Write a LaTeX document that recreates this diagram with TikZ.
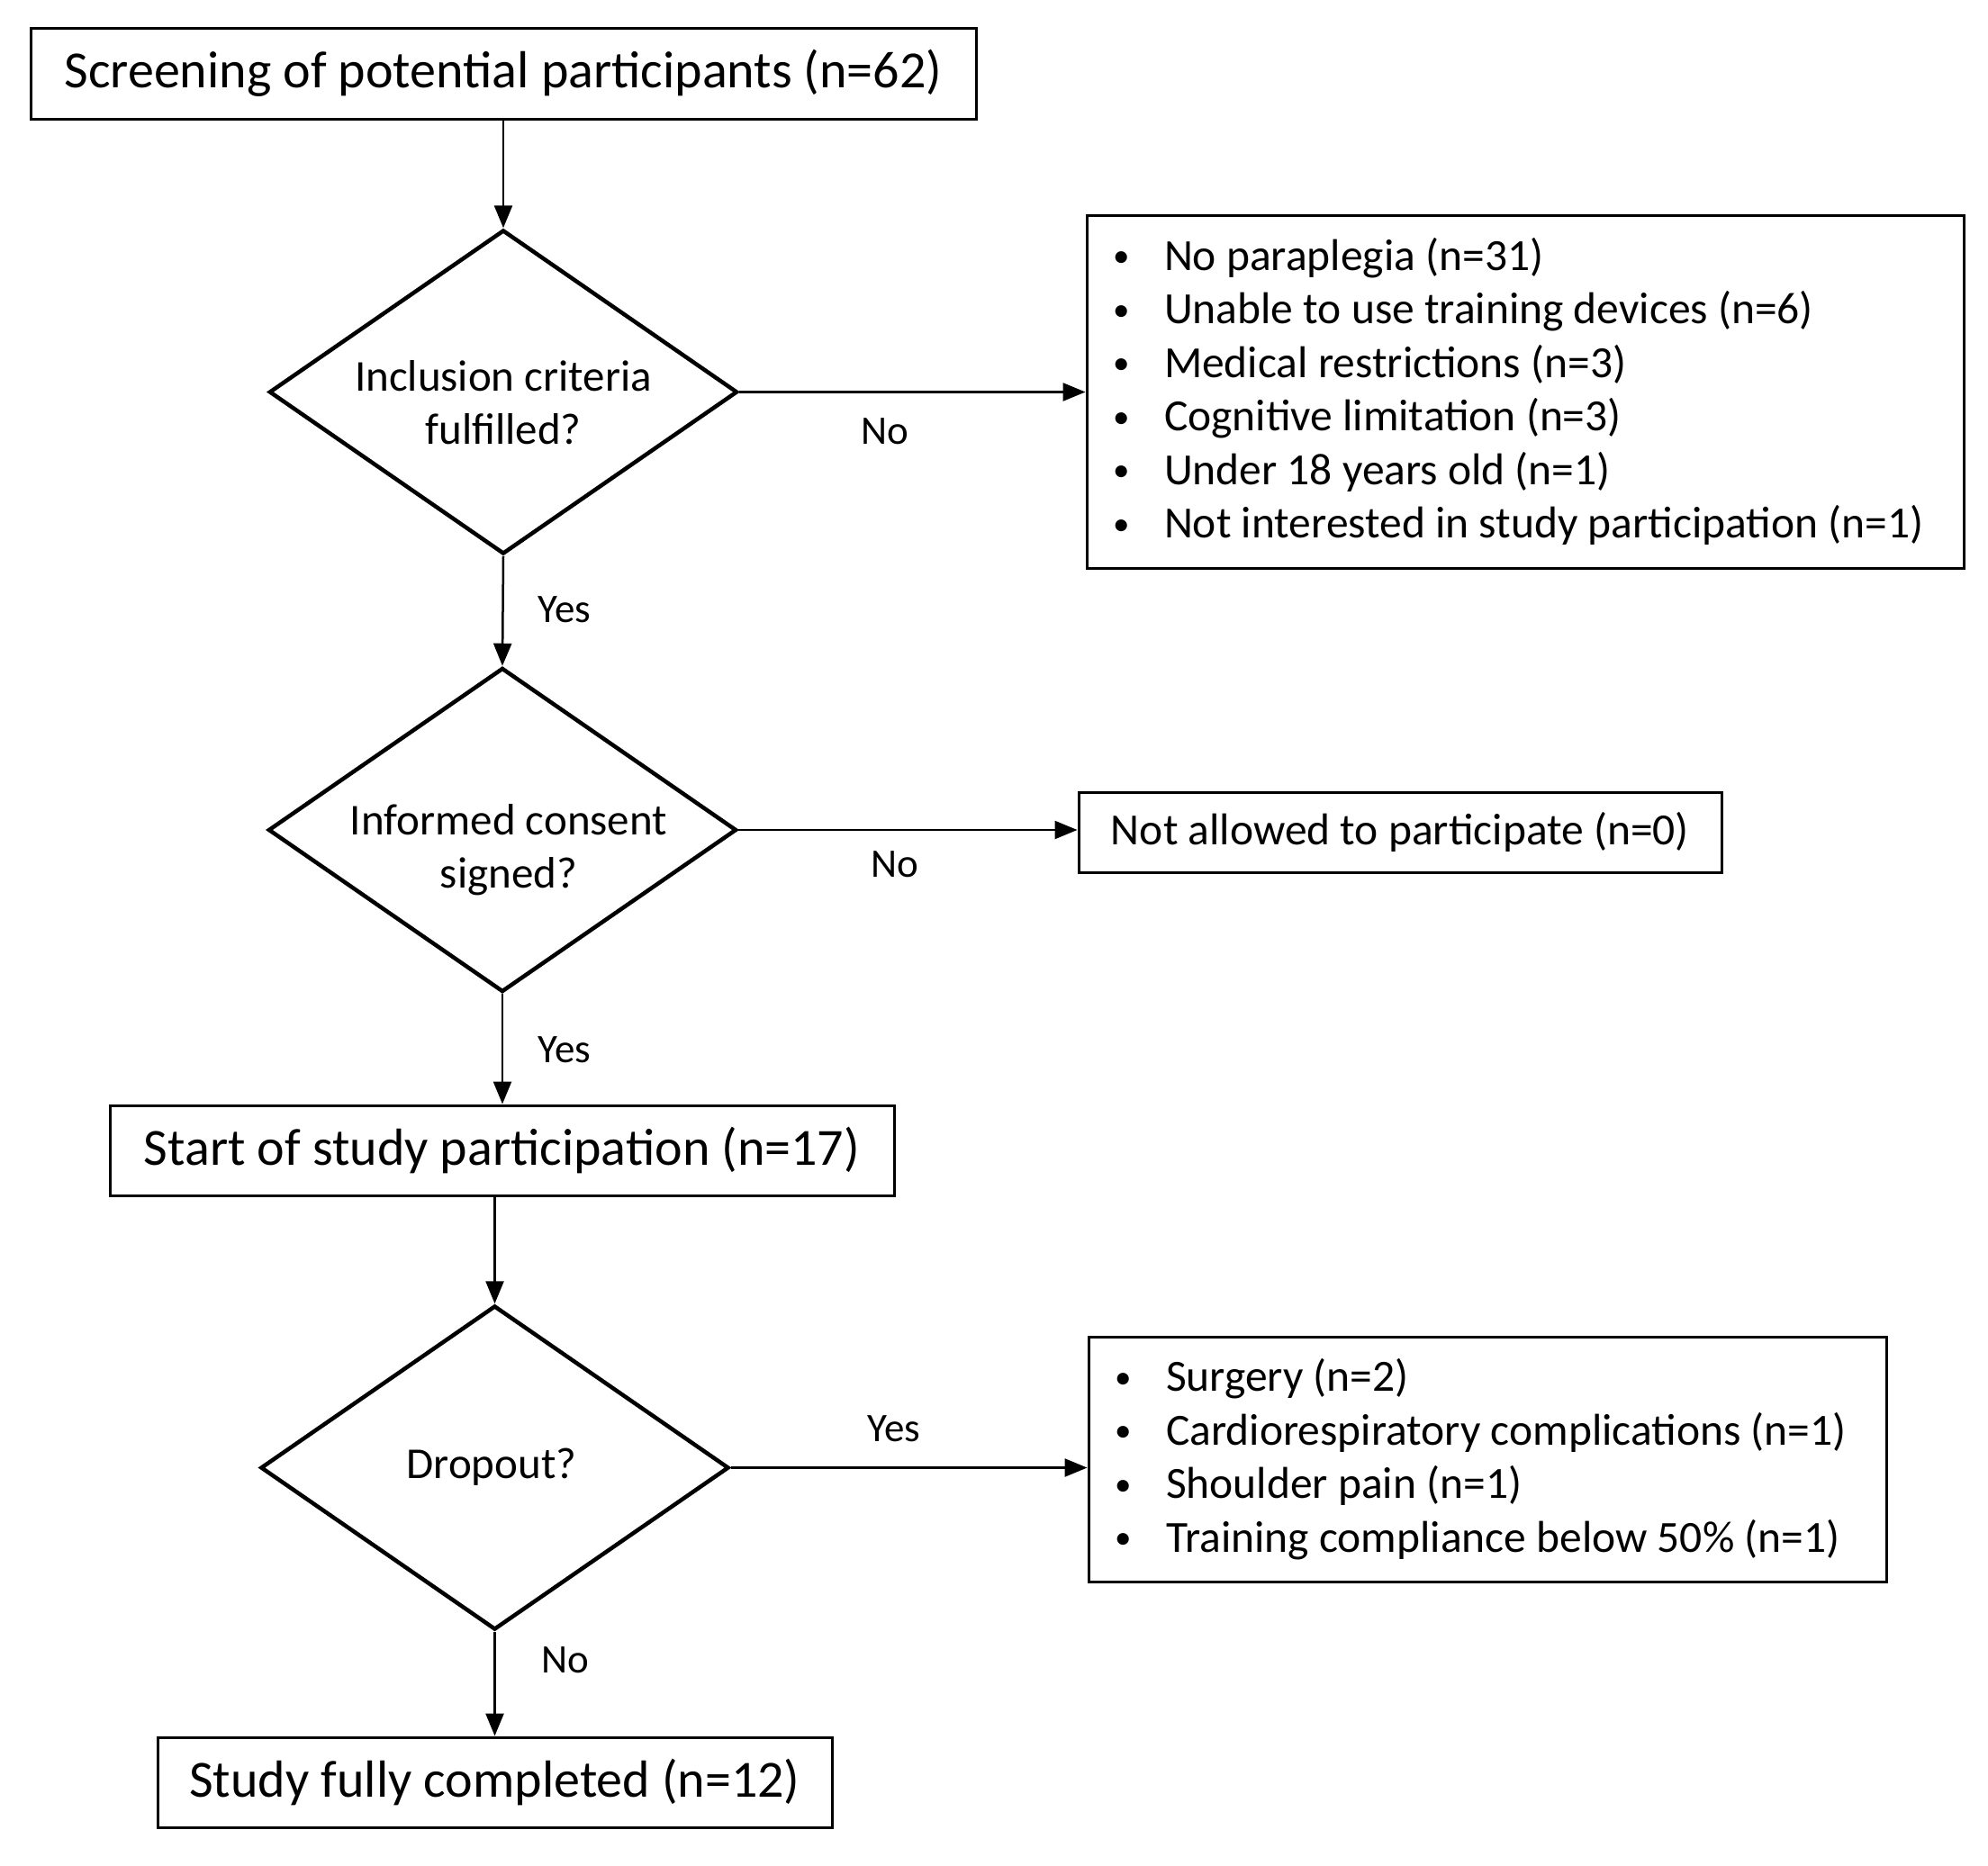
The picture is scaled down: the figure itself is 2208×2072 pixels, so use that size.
\documentclass[tikz,border=0pt]{standalone}
\usepackage{fontspec}
\setmainfont{Carlito}
\usetikzlibrary{shapes.geometric,arrows.meta}
\newcommand\blt{\makebox[60pt][l]{\hspace{3pt}\raisebox{3.5pt}{\fontsize{37}{37}\selectfont\textbullet}}}
\newcommand\lineA[1]{\makebox[922pt][l]{\blt #1}}
\newcommand\lineB[1]{\makebox[834pt][l]{\blt #1}}
\begin{document}
\begin{tikzpicture}[x=1pt,y=-1pt,
  mainbox/.style={draw, line width=3pt, inner sep=0pt, font=\fontsize{58}{70}\selectfont},
  smallbox/.style={draw, line width=3pt, inner sep=0pt, font=\fontsize{49.5}{59.5}\selectfont},
  listbox/.style={draw, line width=3pt, inner xsep=26pt, inner ysep=0pt, align=left, font=\fontsize{49.5}{59.5}\selectfont},
  dec/.style={draw, diamond, line width=4.5pt, inner sep=0pt, minimum width=520pt, minimum height=360pt},
  dtext/.style={align=center, inner sep=0pt, font=\fontsize{49}{59}\selectfont},
  lbl/.style={inner sep=0pt, font=\fontsize{45}{54}\selectfont},
  arr/.style={line width=2.5pt, -{Triangle[length=25pt,width=20pt]}}
]
\useasboundingbox (0,0) rectangle (2208,2072);

\node[mainbox, minimum width=1050pt, minimum height=101pt] (screen) at (559,81.5) {Screening of potential participants (n=62)};

\node[dec] (d1) at (559,435.5) {};
\node[dtext] (d1t) at (559,447) {Inclusion criteria\\fulfilled?};

\node[listbox, minimum width=974pt, minimum height=392pt] (excl) at (1694,435) {\lineA{No paraplegia (n=31)}\\
\lineA{Unable to use training devices (n=6)}\\
\lineA{Medical restrictions (n=3)}\\
\lineA{Cognitive limitation (n=3)}\\
\lineA{Under 18 years old (n=1)}\\
\lineA{Not interested in study participation (n=1)}};

\node[dec] (d2) at (558,922) {};
\node[dtext] (d2t) at (565,944) {Informed consent\\signed?};

\node[smallbox, minimum width=714pt, minimum height=89pt] (na) at (1555,924.5) {Not allowed to participate (n=0)};

\node[mainbox, minimum width=871pt, minimum height=100pt] (start) at (557.5,1278) {Start of study participation (n=17)};

\node[dec] (d3) at (549.5,1630.5) {};
\node[dtext] (d3t) at (546,1630) {Dropout?};

\node[listbox, minimum width=886pt, minimum height=272pt] (drop) at (1652,1621) {\lineB{Surgery (n=2)}\\
\lineB{Cardiorespiratory complications (n=1)}\\
\lineB{Shoulder pain (n=1)}\\
\lineB{Training compliance below 50\% (n=1)}};

\node[mainbox, minimum width=749pt, minimum height=100pt] (done) at (549.5,1980) {Study fully completed (n=12)};

\draw[arr] (screen.south -| d1.north) -- (d1.north);
\draw[arr] (d1.east) -- (d1.east -| excl.west);
\draw[arr] (d1.south) -- (d2.north);
\draw[arr] (d2.east) -- (d2.east -| na.west);
\draw[arr] (d2.south) -- (d2.south |- start.north);
\draw[arr] (start.south -| d3.north) -- (d3.north);
\draw[arr] (d3.east) -- (d3.east -| drop.west);
\draw[arr] (d3.south) -- (d3.south |- done.north);

\node[lbl] (l1) at (983,479) {No};
\node[lbl] (l2) at (627,677) {Yes};
\node[lbl] (l3) at (994,960) {No};
\node[lbl] (l4) at (627,1166) {Yes};
\node[lbl] (l5) at (993,1587) {Yes};
\node[lbl] (l6) at (628,1844) {No};
\end{tikzpicture}
\end{document}
